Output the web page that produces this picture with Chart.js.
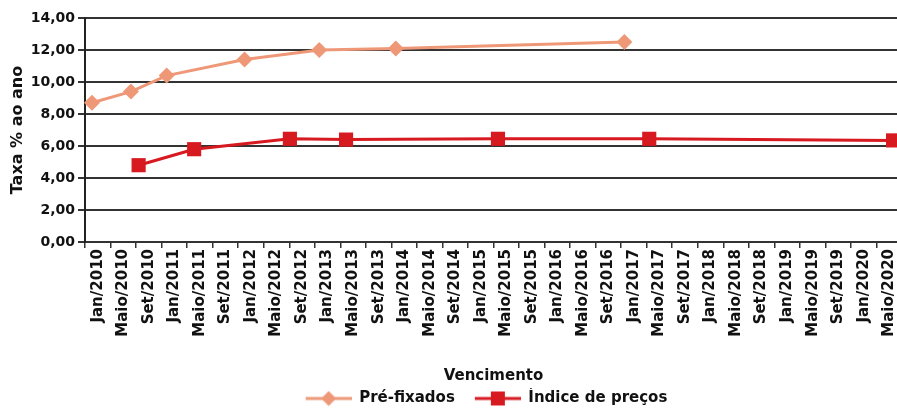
<!DOCTYPE html>
<html>
<head>
<meta charset="utf-8">
<script src="https://cdn.jsdelivr.net/npm/chart.js@4/dist/chart.umd.min.js"></script>
<style>
  html, body { margin: 0; padding: 0; background: #fff; overflow: hidden; }
  #wrap { width: 912px; height: 410px; }
</style>
</head>
<body>
<div id="wrap"><canvas id="c" width="912" height="410"></canvas></div>
<script>
// ---- data ----
const categories = [
  'Jan/2010','Maio/2010','Set/2010','Jan/2011','Maio/2011','Set/2011',
  'Jan/2012','Maio/2012','Set/2012','Jan/2013','Maio/2013','Set/2013',
  'Jan/2014','Maio/2014','Set/2014','Jan/2015','Maio/2015','Set/2015',
  'Jan/2016','Maio/2016','Set/2016','Jan/2017','Maio/2017','Set/2017',
  'Jan/2018','Maio/2018','Set/2018','Jan/2019','Maio/2019','Set/2019',
  'Jan/2020','Maio/2020'
];
// maturity position in months counted from the start of Jan/2010
const preMonths  = [1.1, 7.2, 12.8, 25.0, 36.7, 48.7, 84.5];
const preValues  = [8.7, 9.4, 10.4, 11.4, 12.0, 12.1, 12.5];
const ipcaMonths = [8.4, 17.1, 32.1, 40.9, 64.7, 88.4, 126.6];
const ipcaValues = [4.8, 5.8, 6.45, 6.4, 6.45, 6.45, 6.35];
const yTicks = [0, 2, 4, 6, 8, 10, 12, 14];

const seriesNames = ['Pré-fixados', 'Índice de preços'];
const preColor = '#EE9878';
const ipcaColor = '#D71920';
const FONT = 'DejaVu Sans';

const SYM_LEAD = 17, SYM_W = 46;
function legendSymbol(color, kind) {
  const c = document.createElement('canvas');
  c.width = SYM_LEAD + SYM_W; c.height = 16;
  const g = c.getContext('2d');
  const x0 = SYM_LEAD, cx = SYM_LEAD + SYM_W / 2;
  g.strokeStyle = color; g.lineWidth = 3;
  g.beginPath(); g.moveTo(x0, 8); g.lineTo(x0 + SYM_W, 8); g.stroke();
  g.fillStyle = color;
  if (kind === 'diamond') {
    g.beginPath(); g.moveTo(cx, 0.5); g.lineTo(cx + 7.5, 8); g.lineTo(cx, 15.5); g.lineTo(cx - 7.5, 8); g.closePath(); g.fill();
  } else {
    g.fillRect(cx - 7, 1, 14, 14);
  }
  return c;
}
const symbols = [legendSymbol(preColor, 'diamond'), legendSymbol(ipcaColor, 'square')];

const legendShift = {
  id: 'legendShift',
  afterLayout(chart) {
    const lg = chart.legend;
    if (lg) { lg.left += 22; lg.right += 22; }
  }
};

new Chart(document.getElementById('c'), {
  type: 'line',
  data: {
    labels: categories,
    datasets: [
      {
        label: seriesNames[0],
        data: preMonths.map((m, i) => ({ x: m, y: preValues[i] })),
        xAxisID: 'xl', yAxisID: 'y',
        borderColor: preColor, backgroundColor: preColor,
        borderWidth: 3, pointStyle: 'rectRot', pointRadius: 8, pointBorderWidth: 0,
        tension: 0, clip: false
      },
      {
        label: seriesNames[1],
        data: ipcaMonths.map((m, i) => ({ x: m, y: ipcaValues[i] })),
        xAxisID: 'xl', yAxisID: 'y',
        borderColor: ipcaColor, backgroundColor: ipcaColor,
        borderWidth: 3, pointStyle: 'rect', pointRadius: 10, pointBorderWidth: 0,
        tension: 0, clip: false
      }
    ]
  },
  options: {
    responsive: false,
    animation: false,
    layout: { padding: { top: 18, left: 0, right: 0, bottom: -6 } },
    plugins: {
      tooltip: { enabled: false },
      legend: {
        position: 'bottom',
        labels: {
          font: { family: FONT, size: 15, weight: 'bold' },
          color: '#111',
          usePointStyle: true,
          pointStyleWidth: SYM_LEAD + SYM_W,
          boxHeight: 15,
          padding: 3,
          generateLabels: (chart) => chart.data.datasets.map((ds, i) => ({
            text: ds.label, pointStyle: symbols[i], fillStyle: ds.borderColor,
            strokeStyle: ds.borderColor, lineWidth: 0, hidden: false, datasetIndex: i,
            fontColor: '#111'
          }))
        }
      }
    },
    scales: {
      x: {
        type: 'category',
        position: 'bottom',
        offset: true,
        afterFit: (s) => { s.height = 146; },
        grid: { display: true, drawOnChartArea: false, offset: true, tickLength: 6, color: '#333', lineWidth: 1.5 },
        border: { display: true, color: '#333', width: 2 },
        ticks: {
          font: { family: FONT, size: 15, weight: 'bold' },
          color: '#111', minRotation: 90, maxRotation: 90, autoSkip: false, padding: 1
        },
        title: {
          display: true, text: 'Vencimento',
          font: { family: FONT, size: 15, weight: 'bold' }, color: '#111',
          padding: { top: 0, bottom: 3 }
        }
      },
      xl: {
        type: 'linear', display: false, min: 0, max: 128
      },
      y: {
        min: 0, max: 14,
        afterFit: (s) => { s.width = 85; },
        afterBuildTicks: (s) => { s.ticks = yTicks.map(v => ({ value: v })); },
        grid: { color: '#333', lineWidth: 2, tickLength: 7 },
        border: { display: true, color: '#222', width: 2 },
        ticks: {
          font: { family: FONT, size: 14, weight: 'bold' },
          color: '#111', padding: 3,
          callback: (v) => Number(v).toFixed(2).replace('.', ',')
        },
        title: {
          display: true, text: 'Taxa % ao ano',
          font: { family: FONT, size: 16, weight: 'bold' }, color: '#111',
          padding: { top: 8, bottom: 2 }
        }
      }
    }
  },
  plugins: [legendShift]
});
</script>
</body>
</html>
